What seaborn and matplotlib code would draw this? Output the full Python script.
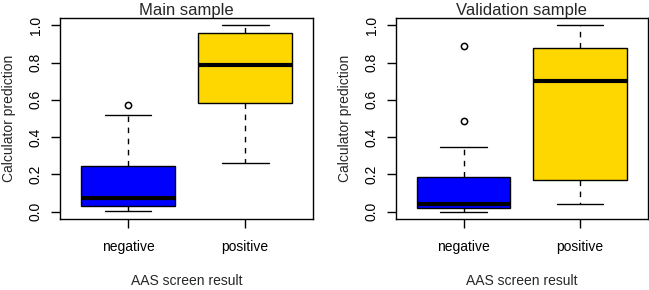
import numpy as np
import pandas as pd
import matplotlib
matplotlib.use("Agg")
import matplotlib.pyplot as plt
import seaborn as sns

groups = ["negative", "positive"]
box_colors = ["#0000FF", "#FFD700"]
panel_titles = ["Main sample", "Validation sample"]
y_ticks = [0.0, 0.2, 0.4, 0.6, 0.8, 1.0]

# calculator predictions per screen result
main_negative = [0.003, 0.027, 0.027, 0.071, 0.071, 0.247, 0.247, 0.516, 0.573]
main_positive = [0.263, 0.582, 0.790, 0.961, 1.000]
valid_negative = [0.000, 0.018, 0.018, 0.018, 0.041, 0.041, 0.041,
                  0.188, 0.188, 0.188, 0.349, 0.484, 0.889]
valid_positive = [0.040, 0.169, 0.703, 0.878, 1.000]


def make_frame(neg, pos):
    return pd.DataFrame({
        "result": ["negative"] * len(neg) + ["positive"] * len(pos),
        "pred": neg + pos,
    })


sns.set_theme(style="white")
plt.rcParams["font.family"] = ["Liberation Sans", "DejaVu Sans"]
plt.rcParams["axes.edgecolor"] = "black"
plt.rcParams["axes.linewidth"] = 1.0

fig = plt.figure(figsize=(6.49, 2.90), dpi=100)
ax1 = fig.add_axes([0.0925, 0.245, 0.390, 0.693])
ax2 = fig.add_axes([0.610, 0.245, 0.388, 0.693])

frames = [make_frame(main_negative, main_positive),
          make_frame(valid_negative, valid_positive)]

for ax, df, title in zip([ax1, ax2], frames, panel_titles):
    sns.boxplot(
        data=df, x="result", y="pred", hue="result", order=groups,
        hue_order=groups, palette=box_colors, saturation=1, legend=False,
        width=0.8, whis=1.4, linecolor="black", linewidth=1.0,
        fliersize=4.5,
        medianprops=dict(linewidth=3, color="black"),
        whiskerprops=dict(linestyle=(0, (4, 4)), color="black"),
        flierprops=dict(marker="o", markerfacecolor="none",
                        markeredgecolor="black", markeredgewidth=1.1),
        ax=ax,
    )
    ax.set_xlim(-0.58, 1.58)
    ax.set_ylim(-0.04, 1.04)
    ax.set_yticks(y_ticks)
    ax.set_yticklabels([f"{v:.1f}" for v in y_ticks])
    ax.tick_params(axis="both", direction="out", length=6.5, width=1,
                   color="black", labelsize=10, labelcolor="black",
                   left=True, bottom=True)
    ax.tick_params(axis="y", pad=6)
    ax.tick_params(axis="x", pad=9)
    for lab in ax.get_yticklabels():
        lab.set_rotation(90)
        lab.set_va("center")
        lab.set_ha("right")
    for s in ax.spines.values():
        s.set_visible(True)
        s.set_color("black")
    ax.set_title(title, fontsize=12, pad=2)
    ax.set_xlabel("AAS screen result", fontsize=10, labelpad=14)
    ax.set_ylabel("Calculator prediction", fontsize=10, labelpad=9)

fig.savefig("out.png", dpi=100)
